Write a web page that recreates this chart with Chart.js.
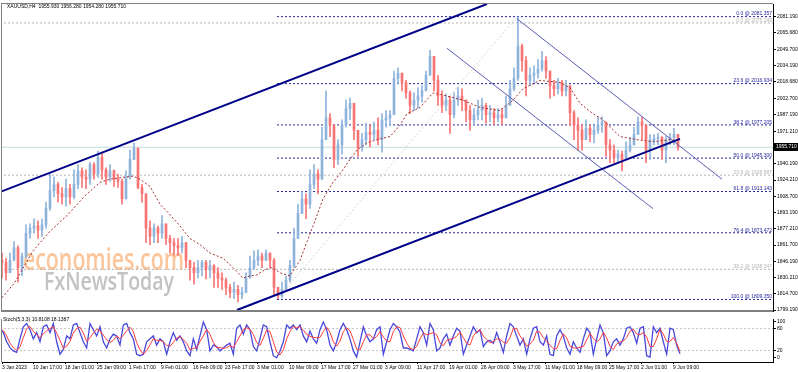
<!DOCTYPE html>
<html lang="en">
<head>
<meta charset="UTF-8">
<title>XAUUSD H4</title>
<script src="https://cdn.jsdelivr.net/npm/chart.js"></script>
<style>
    html, body { margin: 0; padding: 0; background: #fff; }
    body { width: 798px; height: 372px; overflow: hidden; position: relative; }
    .pane { position: absolute; left: 0; width: 798px; }
    #pricePane { top: 0; height: 315px; }
    #stochPane { top: 315px; height: 57px; }
</style>
</head>
<body>
<div class="pane" id="pricePane"><canvas id="priceChart"></canvas></div>
<div class="pane" id="stochPane"><canvas id="stochChart"></canvas></div>
<script>
const chartTitle = 'XAUUSD,H4  1955.930 1956.280 1954.280 1955.710';
const stochTitle = 'Stoch(5,3,3) 10.8108 18.1387';
const lastPrice = 1955.71;

// one sampled candle every 4 H4 bars
const barStep = 4;
const opens = [
    1847,1845,1835,1847,1859,1840,1851,1873,1878,1880,
    1876,1881,1897,1914,1920,1911,1908,1916,1908,1920,
    1933,1927,1925,1939,1930,1946,1934,1927,1933,1925,
    1923,1906,1927,1944,1955,1917,1911,1878,1870,1878,
    1873,1882,1868,1864,1861,1859,1864,1847,1840,1835,
    1840,1845,1838,1842,1835,1830,1828,1821,1816,1819,
    1814,1816,1830,1840,1847,1851,1847,1854,1847,1821,
    1813,1819,1828,1842,1868,1892,1906,1901,1920,1930,
    1925,1963,1984,1977,1944,1958,1977,1993,1998,1972,
    1955,1963,1970,1968,1972,1963,1982,1984,1987,2022,
    2027,2018,2008,1996,2001,2005,2010,2025,2043,2020,
    2005,1996,2001,1987,2001,2005,2001,1991,1982,1987,
    1991,1996,1987,1989,1984,1987,1984,1996,2012,2022,
    2053,2039,2020,2025,2027,2031,2039,2029,2015,2012,
    2018,2010,2015,1989,1977,1972,1963,1974,1968,1972,
    1977,1980,1958,1953,1946,1949,1944,1953,1958,1968,
    1980,1977,1953,1962,1964,1965,1953,1963,1965,1968
];
const highs = [
    1854,1849,1854,1865,1861,1854,1881,1882,1887,1885,
    1887,1903,1930,1927,1922,1917,1925,1920,1934,1939,
    1936,1934,1941,1941,1952,1951,1936,1939,1934,1930,
    1925,1933,1953,1960,1955,1920,1911,1885,1882,1880,
    1890,1882,1871,1868,1868,1870,1864,1847,1845,1847,
    1847,1847,1847,1843,1840,1835,1830,1824,1826,1823,
    1821,1835,1851,1856,1857,1854,1857,1854,1849,1821,
    1826,1832,1847,1878,1901,1913,1911,1934,1939,1934,
    1975,2010,1988,1977,1963,1982,2001,2003,1998,1972,
    1969,1979,1977,1980,1984,1988,1991,1991,2029,2032,
    2027,2020,2010,2008,2013,2015,2029,2049,2043,2025,
    2010,2007,2005,2008,2013,2012,2001,1996,1993,2001,
    2003,1998,1996,1993,1993,1993,2005,2020,2032,2081,
    2055,2043,2032,2034,2040,2048,2043,2029,2020,2022,
    2020,2020,2015,1991,1984,1977,1982,1977,1977,1985,
    1985,1980,1963,1958,1953,1952,1961,1965,1975,1985,
    1985,1977,1968,1968,1969,1966,1966,1969,1974,1968
];
const lows = [
    1830,1828,1835,1847,1826,1832,1849,1868,1873,1868,
    1870,1878,1895,1908,1903,1901,1899,1901,1906,1916,
    1917,1916,1920,1925,1927,1925,1920,1923,1918,1917,
    1901,1906,1925,1944,1916,1903,1864,1862,1864,1864,
    1868,1862,1854,1852,1852,1854,1840,1828,1824,1830,
    1832,1829,1830,1821,1821,1819,1814,1811,1810,1807,
    1810,1816,1830,1838,1842,1840,1847,1840,1814,1810,
    1811,1819,1826,1840,1868,1892,1887,1897,1916,1911,
    1925,1963,1966,1936,1939,1949,1975,1982,1963,1947,
    1952,1958,1956,1963,1958,1951,1975,1977,1987,2017,
    2010,2003,1988,1991,1993,1999,2010,2025,2010,1996,
    1989,1991,1969,1984,1996,1991,1980,1972,1977,1982,
    1982,1979,1980,1978,1980,1978,1984,1996,2010,2020,
    2029,2005,2015,2018,2022,2029,2022,2003,2005,2007,
    2005,2005,1977,1963,1953,1953,1963,1961,1960,1969,
    1970,1947,1941,1941,1941,1933,1944,1951,1958,1968,
    1963,1941,1944,1958,1958,1944,1941,1958,1958,1953
];
const closes = [
    1845,1835,1847,1859,1840,1851,1873,1878,1880,1876,
    1881,1897,1914,1920,1911,1908,1916,1908,1920,1933,
    1927,1925,1939,1930,1946,1934,1927,1933,1925,1923,
    1906,1927,1944,1955,1917,1911,1878,1870,1878,1873,
    1882,1868,1864,1861,1859,1864,1847,1840,1835,1840,
    1845,1838,1842,1835,1830,1828,1821,1816,1819,1814,
    1816,1830,1840,1847,1851,1847,1854,1847,1821,1813,
    1819,1828,1842,1868,1892,1906,1901,1920,1930,1925,
    1963,1984,1977,1944,1958,1977,1993,1998,1972,1955,
    1963,1970,1968,1972,1963,1982,1984,1987,2022,2027,
    2018,2008,1996,2001,2005,2010,2025,2043,2020,2005,
    1996,2001,1987,2001,2005,2001,1991,1982,1987,1991,
    1996,1987,1989,1984,1987,1984,1996,2012,2022,2053,
    2039,2020,2025,2027,2031,2039,2029,2015,2012,2018,
    2010,2015,1989,1977,1972,1963,1974,1968,1972,1977,
    1980,1958,1953,1946,1949,1944,1953,1958,1968,1980,
    1977,1953,1963,1964,1965,1953,1963,1965,1968,1955.71
];

// moving average (dashed) read at a few bars
const maBars = [0,13,31,48,65,83,98,108,123,131,138,148,158,165,178,188,198,208,221,231,
    241,248,255,263,270,278,288,298,305,313,321,331,341,348,355,365,375,388,398,405,
    418,431,445,461,478,498,511,521,538,558,568,578,591,601,618,635,651,668,678];
const maValues = [1811,1826,1856,1875,1890,1909,1922,1925,1927,1928,1925,1918,1901,1894,1880,1868,1862,1854,1849,1840,
    1830,1832,1833,1838,1840,1835,1832,1847,1865,1885,1906,1922,1934,1944,1953,1960,1963,1966,1977,1988,
    1994,2008,2005,2001,1994,1991,2001,2012,2020,2018,2013,1998,1988,1982,1966,1963,1961,1963,1962];

// drawn objects: [bar, price] end points
const upperChannel = [[-2, 1912.7], [485, 2093.5]];
const lowerChannel = [[235, 1799.2], [678, 1963.8]];
const fallingTop = [[515, 2079.3], [720, 1925.0]];
const fallingBottom = [[445, 2050.9], [651, 1896.7]];
const fibDiagonal = [[275, 1809.35], [515, 2081.357]];

const fibStartBar = 275;
const fibNames = ['0.0', '23.6', '38.2', '50.0', '61.8', '76.4', '100.0'];
const fibLevels = [2081.357, 2016.934, 1977.205, 1945.300, 1913.143, 1873.472, 1809.350];
const oldFibNames = ['0.0', '23.6', '38.2'];
const oldFibLevels = [2075.249, 1928.887, 1838.347];

const priceTicks = [2081.19, 2065.68, 2049.70, 2034.19, 2018.68, 2002.70, 1987.19, 1971.21,
    1940.19, 1924.21, 1908.70, 1893.19, 1877.21, 1861.70, 1846.19, 1830.21, 1814.70, 1799.19];

const timeBars = [0,31,63,95,127,159,191,223,255,287,319,351,383,415,447,479,511,543,575,607,639,671];
const timeLabels = ['3 Jan 2023','10 Jan 17:00','18 Jan 01:00','25 Jan 09:00','1 Feb 17:00','9 Feb 01:00',
    '16 Feb 09:00','23 Feb 17:00','3 Mar 01:00','10 Mar 09:00','17 Mar 17:00','27 Mar 01:00','3 Apr 09:00',
    '11 Apr 17:00','19 Apr 01:00','26 Apr 09:00','3 May 17:00','11 May 01:00','18 May 09:00','25 May 17:00',
    '2 Jun 01:00','9 Jun 09:00'];

// stochastic, one reading every 10/3 bars starting at bar -2
const stochStart = -2;
const stochStep = 10 / 3;
const stochK = [
    77,69,44,28,19,15,52,85,94,77, 52,69,44,85,90,69,94,44,10,23,
    60,52,90,94,69,44,27,94,77,60, 85,44,27,52,65,60,35,90,94,69,
    52,10,6,10,44,52,60,35,52,44, 10,44,69,48,60,44,19,6,52,23,
    60,98,77,19,35,31,19,27,35,40, 10,81,90,65,90,77,31,19,52,90,
    85,44,6,0,19,44,90,81,90,77, 90,60,44,73,52,40,77,98,77,35,
    19,44,77,94,77,52,19,2,44,85, 60,44,52,77,85,10,44,77,94,85,
    70,27,27,23,19,52,85,69,35,94, 77,19,27,52,65,35,60,81,73,10,
    35,60,85,69,77,31,44,48,40,69, 44,15,60,94,85,60,35,52,10,52,
    81,85,44,35,60,10,6,60,77,60, 27,10,44,27,15,52,81,69,10,52,
    90,69,6,19,44,52,35,52,81,85, 69,40,81,85,6,2,85,69,81,44,
    10,81,77,35,11
];
const stochD = [
    80,74,60,40,28,20,30,55,80,86, 72,64,55,66,74,80,85,68,48,26,
    32,45,68,80,84,68,45,55,68,78, 74,62,50,42,48,60,52,62,74,84,
    72,42,22,10,20,36,52,48,48,44, 34,32,42,54,58,50,40,22,26,28,
    45,60,78,64,42,28,28,26,28,34, 28,44,60,78,82,78,64,42,34,54,
    76,72,44,16,8,22,52,72,86,82, 85,76,64,59,56,55,56,72,84,70,
    44,32,46,72,82,74,50,24,22,44, 63,63,52,58,72,57,46,44,72,85,
    83,60,41,26,23,31,52,68,63,66, 69,63,41,33,48,51,53,59,71,55,
    40,35,60,71,77,59,51,41,44,52, 51,43,40,56,80,80,60,49,32,38,
    48,73,70,55,46,35,25,25,48,66, 55,32,27,27,29,31,49,67,53,44,
    51,70,55,31,23,38,44,46,56,73, 78,65,63,69,57,31,31,52,78,65,
    45,45,56,40,18
];

const bullColor = '#8fb4dc';
const bearColor = '#f77474';
const fibBlue = '#26269e';
const fibGray = '#b4b4b4';
const tinyFont = { family: '"Liberation Sans", Arial, sans-serif', size: 5 };
const tinyCss = '5px "Liberation Sans", Arial, sans-serif';

// price pane: plot from pixel 2 to 773, top 2, bottom 314
const barMin = 0, barMax = 771;
const priceMin = 1798.24, priceMax = 2093.49;

function toPoints(list) { return list.map(p => ({ x: p[0], y: p[1] })); }
function levelLine(x0, value) { return [{ x: x0, y: value }, { x: barMax, y: value }]; }

function lineSet(data, color, width, dash, order) {
    return { type: 'line', data: data, borderColor: color, borderWidth: width, borderDash: dash,
             pointRadius: 0, tension: 0, fill: false, order: order, clip: 0 };
}

function drawSquashed(ctx, text, x, y, width, font, color) {
    ctx.font = font;
    const natural = ctx.measureText(text).width;
    ctx.save();
    ctx.translate(x, y);
    ctx.scale(width / natural, 1);
    ctx.fillStyle = color;
    ctx.textBaseline = 'alphabetic';
    ctx.fillText(text, 0, 0);
    ctx.restore();
}

const priceOverlay = {
    id: 'priceOverlay',
    beforeDatasetsDraw(chart) {
        const ctx = chart.ctx;
        ctx.save();
        drawSquashed(ctx, 'economies.com', 23, 270, 161, '600 31px "Open Sans", sans-serif', '#fcc69c');
        drawSquashed(ctx, 'FxNewsToday', 44, 290, 130, '600 25px "Open Sans", sans-serif', '#c2c2c2');
        ctx.restore();
    },
    afterDatasetsDraw(chart) {
        const { ctx, chartArea: a, scales: { y } } = chart;
        ctx.save();
        ctx.font = tinyCss;
        ctx.textAlign = 'right';
        ctx.textBaseline = 'bottom';
        ctx.fillStyle = fibBlue;
        fibLevels.forEach((lv, i) => ctx.fillText(fibNames[i] + ' @ ' + lv.toFixed(3), a.right - 1, y.getPixelForValue(lv)));
        ctx.fillStyle = fibGray;
        oldFibLevels.forEach((lv, i) => ctx.fillText(oldFibNames[i] + ' @ ' + lv.toFixed(3), a.right - 1, y.getPixelForValue(lv)));

        ctx.fillStyle = '#808080';
        ctx.fillRect(a.left - 1, a.top - 1, a.right - a.left + 1, 1);
        ctx.fillRect(a.left - 1, a.top - 1, 1, a.bottom - a.top + 1);
        ctx.fillRect(a.left - 1, a.bottom - 1, a.right - a.left + 1, 2);

        ctx.fillStyle = '#000';
        ctx.textAlign = 'left';
        ctx.textBaseline = 'middle';
        ctx.fillText(chartTitle, 7, 7);

        const py = Math.round(y.getPixelForValue(lastPrice));
        ctx.fillRect(a.right + 1, py - 4, 24, 8);
        ctx.fillStyle = '#fff';
        ctx.fillText(lastPrice.toFixed(3), a.right + 3, py);
        ctx.restore();
    }
};

const candleColors = closes.map((c, i) => c >= opens[i] ? bullColor : bearColor);

const priceDatasets = [
    lineSet(toPoints(upperChannel), '#000088', 2, [], 0),
    lineSet(toPoints(lowerChannel), '#000088', 2, [], 0),
    lineSet(toPoints(fallingTop), '#5c5cb6', 1, [], 0),
    lineSet(toPoints(fallingBottom), '#5c5cb6', 1, [], 0),
    lineSet(toPoints(fibDiagonal), '#d4d4d4', 1, [2, 2], 5),
    lineSet(maBars.map((b, i) => ({ x: b, y: maValues[i] })), '#a3302c', 1, [2, 2], 1),
    {
        type: 'bar',
        data: opens.map((o, i) => ({ x: i * barStep, y: [o, closes[i]] })),
        backgroundColor: candleColors,
        barThickness: 2, grouped: false, minBarLength: 1, borderWidth: 0, order: 2
    },
    {
        type: 'bar',
        data: lows.map((l, i) => ({ x: i * barStep, y: [l, highs[i]] })),
        backgroundColor: candleColors,
        barThickness: 1, grouped: false, borderWidth: 0, order: 3
    }
];
fibLevels.forEach(lv => priceDatasets.push(lineSet(levelLine(fibStartBar, lv), fibBlue, 1, [2, 2], 4)));
oldFibLevels.forEach(lv => priceDatasets.push(lineSet(levelLine(-2, lv), fibGray, 1, [2, 2], 4)));
priceDatasets.push(lineSet(levelLine(-2, lastPrice), '#bcdcdc', 1, [], 6));

new Chart(document.getElementById('priceChart'), {
    type: 'bar',
    data: { datasets: priceDatasets },
    options: {
        responsive: true,
        maintainAspectRatio: false,
        animation: false,
        events: [],
        layout: { padding: { left: 2, top: 2, right: 0, bottom: 1 }, autoPadding: false },
        plugins: { legend: { display: false }, tooltip: { enabled: false } },
        scales: {
            x: { type: 'linear', min: barMin, max: barMax, offset: false, display: false },
            y: {
                position: 'right', min: priceMin, max: priceMax,
                afterBuildTicks: axis => { axis.ticks = priceTicks.map(v => ({ value: v })); },
                afterFit: axis => { axis.width = 25; },
                ticks: { font: tinyFont, color: '#000', padding: 1, autoSkip: false, callback: v => v.toFixed(3) },
                grid: { drawOnChartArea: false, tickLength: 3, color: '#000' },
                border: { color: '#000' }
            }
        }
    },
    plugins: [priceOverlay]
});

const stochOverlay = {
    id: 'stochOverlay',
    afterDatasetsDraw(chart) {
        const { ctx, chartArea: a } = chart;
        ctx.save();
        ctx.fillStyle = '#808080';
        ctx.fillRect(a.left - 1, a.top, 1, a.bottom - a.top);
        ctx.fillStyle = '#000';
        ctx.font = tinyCss;
        ctx.textAlign = 'left';
        ctx.textBaseline = 'middle';
        ctx.fillText(stochTitle, 3, 5);
        ctx.restore();
    }
};

const stochX = i => stochStart + i * stochStep;

new Chart(document.getElementById('stochChart'), {
    type: 'line',
    data: {
        datasets: [
            lineSet(stochD.map((v, i) => ({ x: stochX(i), y: v })), '#ff3c3c', 1, [], 0),
            lineSet(stochK.map((v, i) => ({ x: stochX(i), y: v })), '#4848dc', 1.3, [], 1),
            lineSet(levelLine(-2, 80), '#c4c4c4', 1, [2, 2], 2),
            lineSet(levelLine(-2, 20), '#c4c4c4', 1, [2, 2], 2)
        ]
    },
    options: {
        responsive: true,
        maintainAspectRatio: false,
        animation: false,
        events: [],
        layout: { padding: { left: 2, top: 0, right: 0, bottom: 0 }, autoPadding: false },
        plugins: { legend: { display: false }, tooltip: { enabled: false } },
        scales: {
            x: {
                type: 'linear', min: barMin, max: barMax, offset: false,
                afterBuildTicks: axis => { axis.ticks = timeBars.map(v => ({ value: v })); },
                afterFit: axis => { axis.height = 10; },
                ticks: { font: tinyFont, color: '#000', align: 'start', autoSkip: false, maxRotation: 0, padding: 1,
                         callback: (v, i) => timeLabels[i] },
                grid: { drawOnChartArea: false, tickLength: 2, color: '#000' },
                border: { color: '#000' }
            },
            y: {
                position: 'right', min: -11.25, max: 106.25,
                afterBuildTicks: axis => { axis.ticks = [0, 20, 80, 100].map(v => ({ value: v })); },
                afterFit: axis => { axis.width = 25; },
                ticks: { font: tinyFont, color: '#000', padding: 1, autoSkip: false },
                grid: { drawOnChartArea: false, tickLength: 3, color: '#000' },
                border: { color: '#000' }
            }
        }
    },
    plugins: [stochOverlay]
});
</script>
</body>
</html>
